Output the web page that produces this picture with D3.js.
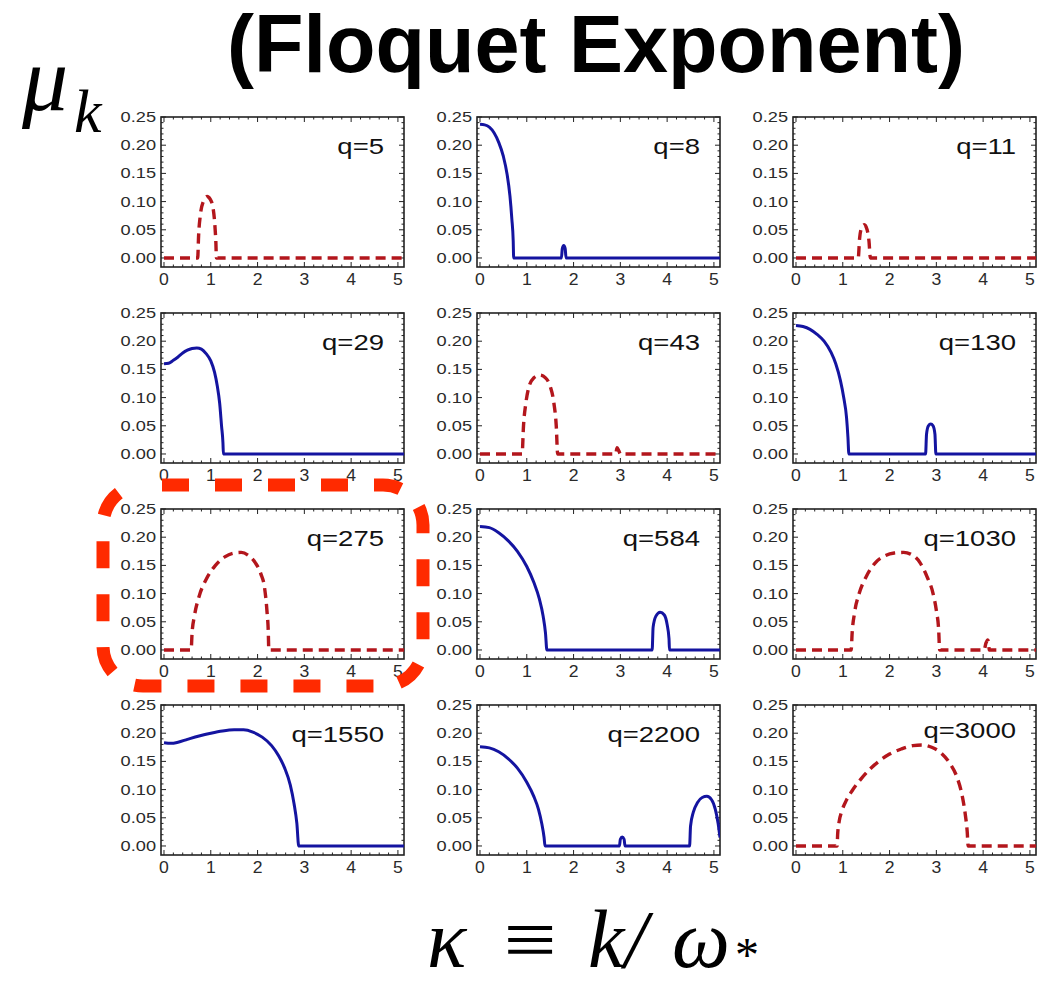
<!DOCTYPE html>
<html>
<head>
<meta charset="utf-8">
<script src="https://cdn.jsdelivr.net/npm/d3@7"></script>
<style>
  html, body { margin: 0; padding: 0; background: #fff; }
  #viz { width: 1051px; height: 987px; }
</style>
</head>
<body>
<div id="viz"></div>
<script>
// panel labels, row by row
var qLabels = ["q=5", "q=8", "q=11", "q=29", "q=43", "q=130", "q=275", "q=584", "q=1030", "q=1550", "q=2200", "q=3000"];
var lineType = ["dashed", "solid", "dashed", "solid", "dashed", "solid", "dashed", "solid", "dashed", "solid", "solid", "dashed"];

var xTicks = [0, 1, 2, 3, 4, 5];
var yTicks = [0, 0.05, 0.10, 0.15, 0.20, 0.25];

// mu_k against kappa
var curveQ5 = [[0,0],[0.72,0],[0.74,0.04],[0.78,0.078],[0.84,0.1],[0.92,0.109],[0.99,0.104],[1.05,0.088],[1.09,0.055],[1.11,0.025],[1.12,0],[5.13,0]];
var curveQ8 = [[0,0.237],[0.1,0.236],[0.2,0.232],[0.3,0.222],[0.4,0.205],[0.5,0.18],[0.58,0.148],[0.64,0.11],[0.68,0.07],[0.71,0.03],[0.72,0],[1.74,0],[1.76,0.017],[1.79,0.022],[1.82,0.017],[1.84,0],[5.13,0]];
var curveQ11 = [[0,0],[1.33,0],[1.36,0.035],[1.4,0.053],[1.46,0.059],[1.52,0.05],[1.56,0.03],[1.59,0],[5.13,0]];
var curveQ29 = [[0,0.16],[0.1,0.161],[0.2,0.166],[0.3,0.172],[0.4,0.179],[0.5,0.184],[0.6,0.187],[0.7,0.188],[0.8,0.186],[0.9,0.178],[1.0,0.165],[1.08,0.145],[1.14,0.12],[1.19,0.09],[1.23,0.05],[1.26,0.02],[1.27,0],[5.13,0]];
var curveQ43 = [[0,0],[0.9,0],[0.93,0.05],[0.98,0.09],[1.05,0.12],[1.15,0.135],[1.28,0.14],[1.4,0.135],[1.5,0.12],[1.58,0.09],[1.63,0.05],[1.66,0],[2.9,0],[2.93,0.011],[2.97,0.005],[3.0,0],[5.13,0]];
var curveQ130 = [[0,0.228],[0.15,0.226],[0.3,0.221],[0.45,0.212],[0.6,0.2],[0.75,0.18],[0.85,0.16],[0.95,0.13],[1.02,0.1],[1.08,0.065],[1.11,0.03],[1.13,0],[2.77,0],[2.79,0.035],[2.83,0.05],[2.88,0.053],[2.93,0.05],[2.97,0.035],[2.99,0],[5.13,0]];
var curveQ275 = [[0,0],[0.58,0],[0.6,0.03],[0.65,0.06],[0.75,0.095],[0.9,0.125],[1.1,0.15],[1.3,0.165],[1.5,0.172],[1.65,0.173],[1.8,0.168],[1.95,0.155],[2.07,0.135],[2.15,0.11],[2.2,0.07],[2.23,0.03],[2.24,0],[5.13,0]];
var curveQ584 = [[0,0.219],[0.2,0.217],[0.4,0.208],[0.6,0.194],[0.8,0.175],[1.0,0.148],[1.15,0.12],[1.27,0.09],[1.35,0.06],[1.4,0.03],[1.43,0],[3.68,0],[3.7,0.04],[3.76,0.06],[3.85,0.067],[3.94,0.062],[4.0,0.045],[4.04,0.02],[4.05,0],[5.13,0]];
var curveQ1030 = [[0,0],[1.18,0],[1.2,0.03],[1.25,0.065],[1.35,0.1],[1.5,0.13],[1.7,0.155],[1.9,0.167],[2.1,0.172],[2.3,0.173],[2.45,0.17],[2.65,0.155],[2.8,0.13],[2.93,0.1],[3.0,0.07],[3.05,0.035],[3.07,0],[4.02,0],[4.06,0.012],[4.1,0.018],[4.12,0.01],[4.13,0],[5.13,0]];
var curveQ1550 = [[0,0.183],[0.15,0.182],[0.3,0.184],[0.5,0.189],[0.75,0.195],[1.0,0.2],[1.25,0.204],[1.5,0.206],[1.7,0.206],[1.9,0.202],[2.1,0.193],[2.3,0.178],[2.45,0.16],[2.58,0.138],[2.7,0.108],[2.78,0.075],[2.84,0.04],[2.88,0],[5.13,0]];
var curveQ2200 = [[0,0.176],[0.2,0.174],[0.4,0.167],[0.6,0.155],[0.8,0.138],[1.0,0.113],[1.15,0.088],[1.25,0.065],[1.32,0.04],[1.37,0.015],[1.39,0],[2.98,0],[3.0,0.012],[3.04,0.016],[3.08,0.012],[3.1,0],[4.48,0],[4.5,0.035],[4.56,0.06],[4.65,0.077],[4.75,0.086],[4.85,0.088],[4.95,0.082],[5.03,0.065],[5.09,0.04],[5.13,0.015]];
var curveQ3000 = [[0,0],[0.88,0],[0.89,0.02],[0.92,0.042],[0.98,0.062],[1.07,0.08],[1.2,0.098],[1.4,0.12],[1.6,0.138],[1.8,0.152],[2.0,0.163],[2.25,0.172],[2.5,0.178],[2.7,0.179],[2.9,0.175],[3.1,0.165],[3.3,0.145],[3.45,0.12],[3.55,0.09],[3.62,0.055],[3.66,0.025],[3.68,0],[5.13,0]];

var curves = [curveQ5, curveQ8, curveQ11, curveQ29, curveQ43, curveQ130, curveQ275, curveQ584, curveQ1030, curveQ1550, curveQ2200, curveQ3000];

var Viz = (function(){
	var svg;
	var width = 1051, height = 987;
	var left0 = 161, top0 = 117, colStep = 316, rowStep = 196;
	var panelW = 243, panelH = 150;

	var blue = "#1414a0", red = "#b3161c", frameColor = "#222", labelColor = "#2a2a2a";
	var sans = "Liberation Sans, Arial, sans-serif", serif = "Liberation Serif, Times New Roman, serif";

	var x = d3.scaleLinear().domain([-0.064, 5.13]).range([0, panelW]);
	var y = d3.scaleLinear().domain([-0.016, 0.25]).range([panelH, 0]);
	var fmt = d3.format(".2f");

	var line = d3.line()
		.x(function(d){ return x(d[0]); })
		.y(function(d){ return y(d[1]); })
		.curve(d3.curveMonotoneX);

	var drawFrame = function(g){
		g.append("rect")
			.attr("width", panelW).attr("height", panelH)
			.style("fill", "none").style("stroke", frameColor).style("stroke-width", 1.6);

		// minor + major ticks, inward on all four sides
		var xMinor = d3.range(0, 5.13, 0.2);
		var yMinor = d3.range(0, 0.2501, 0.01);
		xMinor.forEach(function(v){
			var major = Math.abs(v - Math.round(v)) < 1e-6;
			var len = major ? 5 : 2.5;
			g.append("line").attr("x1", x(v)).attr("x2", x(v)).attr("y1", panelH).attr("y2", panelH - len)
				.style("stroke", frameColor).style("stroke-width", 1);
			g.append("line").attr("x1", x(v)).attr("x2", x(v)).attr("y1", 0).attr("y2", len)
				.style("stroke", frameColor).style("stroke-width", 1);
		});
		yMinor.forEach(function(v){
			var major = Math.abs(v * 20 - Math.round(v * 20)) < 1e-6;
			var len = major ? 5 : 2.5;
			g.append("line").attr("y1", y(v)).attr("y2", y(v)).attr("x1", 0).attr("x2", len)
				.style("stroke", frameColor).style("stroke-width", 1);
			g.append("line").attr("y1", y(v)).attr("y2", y(v)).attr("x1", panelW).attr("x2", panelW - len)
				.style("stroke", frameColor).style("stroke-width", 1);
		});

		g.selectAll(".ytick").data(yTicks).enter()
			.append("text")
			.attr("class", "ytick")
			.attr("transform", function(d){ return "translate(-5," + (y(d) + 5) + ") scale(1.3,1)"; })
			.attr("text-anchor", "end")
			.style("font-family", sans)
			.style("font-size", "14px")
			.style("fill", labelColor)
			.text(fmt);

		g.selectAll(".xtick").data(xTicks).enter()
			.append("text")
			.attr("class", "xtick")
			.attr("transform", function(d){ return "translate(" + x(d) + "," + (panelH + 18) + ") scale(1.1,1)"; })
			.attr("text-anchor", "middle")
			.style("font-family", sans)
			.style("font-size", "16px")
			.style("fill", labelColor)
			.text(function(d){ return d; });
	};

	var drawPanels = function(){
		qLabels.forEach(function(label, i){
			var col = i % 3, row = Math.floor(i / 3);
			var g = svg.append("g")
				.attr("transform", "translate(" + (left0 + col * colStep) + "," + (top0 + row * rowStep) + ")");

			g.append("clipPath").attr("id", "clip" + i)
				.append("rect").attr("width", panelW).attr("height", panelH);

			drawFrame(g);

			var dashed = lineType[i] === "dashed";
			g.append("path")
				.datum(curves[i])
				.attr("d", line)
				.attr("clip-path", "url(#clip" + i + ")")
				.style("fill", "none")
				.style("stroke", dashed ? red : blue)
				.style("stroke-width", dashed ? 3.4 : 3)
				.style("stroke-dasharray", dashed ? "10,6" : null)
				.style("stroke-linejoin", "round");

			g.append("text")
				.attr("transform", "translate(" + (panelW - 20) + "," + (i === 11 ? 33 : 37) + ") scale(1.25,1)")
				.attr("text-anchor", "end")
				.style("font-family", sans)
				.style("font-size", "22px")
				.style("fill", "#111")
				.text(label);
		});
	};

	var drawLabels = function(){
		svg.append("text")
			.attr("x", 596).attr("y", 72)
			.attr("text-anchor", "middle")
			.style("font-family", sans)
			.style("font-weight", "bold")
			.style("font-size", "81px")
			.text("(Floquet Exponent)");

		// y label  mu_k
		svg.append("text")
			.attr("x", 22).attr("y", 110)
			.style("font-family", serif).style("font-style", "italic")
			.style("font-size", "92px")
			.text("\u03bc");
		svg.append("text")
			.attr("x", 74).attr("y", 132)
			.style("font-family", serif).style("font-style", "italic")
			.style("font-size", "62px")
			.text("k");

		// x label  kappa = k / omega_*
		var base = 967, fs = "82px";
		svg.append("text").attr("x", 427).attr("y", base)
			.style("font-family", serif).style("font-style", "italic").style("font-size", fs)
			.text("\u03ba");
		svg.append("text").attr("x", 530).attr("y", base)
			.attr("text-anchor", "middle")
			.attr("transform", "translate(530," + base + ") scale(1.15,1) translate(-530," + (-base) + ")")
			.style("font-family", serif).style("font-size", fs)
			.text("\u2261");
		svg.append("text").attr("x", 588).attr("y", base)
			.style("font-family", serif).style("font-style", "italic").style("font-size", fs)
			.text("k/");
		svg.append("text").attr("x", 672).attr("y", base)
			.style("font-family", serif).style("font-style", "italic").style("font-size", fs)
			.text("\u03c9");
		svg.append("text").attr("x", 735).attr("y", base + 4)
			.style("font-family", serif).style("font-size", "48px")
			.text("*");

		// highlighted panel (q=275)
		svg.append("rect")
			.attr("x", 103).attr("y", 485)
			.attr("width", 320).attr("height", 201)
			.attr("rx", 40).attr("ry", 40)
			.style("fill", "none")
			.style("stroke", "#ff2a00")
			.style("stroke-width", 13)
			.style("stroke-dasharray", "27,26")
			.style("stroke-dashoffset", 34);
	};

	var setup = function(){
		svg = d3.select("#viz").append("svg")
			.attr("width", width)
			.attr("height", height);
	};

	return {
		setup: setup,
		draw: function(){ drawPanels(); drawLabels(); }
	};
})();

Viz.setup();
Viz.draw();
</script>
</body>
</html>
